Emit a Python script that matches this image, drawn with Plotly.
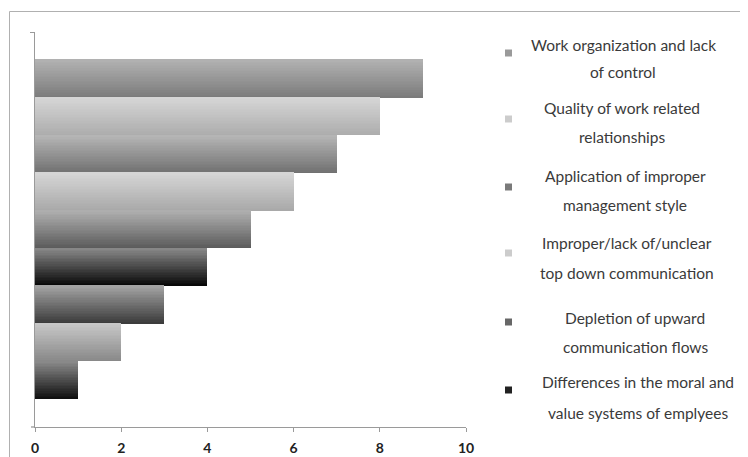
import plotly.graph_objects as go

# ---- data ----
values = [1, 2, 3, 4, 5, 6, 7, 8, 9]          # bottom -> top
bar_top_colors = ["#8c8c8c", "#c8c8c8", "#a4a4a4", "#8a8a8a", "#b0b0b0",
                  "#d6d6d6", "#b6b6b6", "#d6d6d6", "#b2b2b2"]
bar_bottom_colors = ["#0e0e0e", "#888888", "#3a3a3a", "#050505", "#5a5a5a",
                     "#a8a8a8", "#707070", "#acacac", "#7a7a7a"]
x_ticks = [0, 2, 4, 6, 8, 10]
legend_lines = [
    ["Work organization and lack", "of control"],
    ["Quality of work related", "relationships"],
    ["Application of improper", "management style"],
    ["Improper/lack of/unclear", "top down communication"],
    ["Depletion of upward", "communication flows"],
    ["Differences in the moral and", "value systems of emplyees"],
]
legend_colors = ["#9a9a9a", "#cccccc", "#7a7a7a", "#cccccc", "#676767", "#222222"]

# ---- layout geometry (page pixels; page body has an 8px margin) ----
OFF = 8
W, H = 748 - OFF, 457 - OFF
L, R, T, B = 35 - OFF, 466 - OFF, 32 - OFF, 427 - OFF
pw, ph = R - L, B - T


def px_x(x):
    return (x - OFF - L) / pw


def px_y(y):
    return (B - (y - OFF)) / ph


def hex2rgb(h):
    h = h.lstrip("#")
    return [int(h[i:i + 2], 16) for i in (0, 2, 4)]


def mix(c1, c2, t):
    a, b = hex2rgb(c1), hex2rgb(c2)
    return "rgb(%d,%d,%d)" % tuple(round(a[i] + (b[i] - a[i]) * t) for i in range(3))


positions = list(range(len(values)))
N = 24
fig = go.Figure()
for k in range(N):
    t = (k + 0.5) / N  # 0 bottom, 1 top
    cols = [mix(bar_bottom_colors[i], bar_top_colors[i], t) for i in range(len(values))]
    fig.add_trace(go.Bar(
        x=values, y=positions, orientation="h",
        width=1.0 / N + 0.02, offset=-0.5 + k / N,
        marker=dict(color=cols, line=dict(width=0)),
        showlegend=False, hoverinfo="skip",
    ))

shapes = [
    dict(type="rect", xref="paper", yref="paper",
         x0=px_x(9.5), x1=px_x(770), y0=px_y(480), y1=px_y(11.5),
         line=dict(color="#b0b0b0", width=1), fillcolor="rgba(0,0,0,0)", layer="below"),
    # short extension of the x axis line to the left of zero
    dict(type="line", xref="paper", yref="paper",
         x0=px_x(31), x1=px_x(35), y0=px_y(427), y1=px_y(427),
         line=dict(color="#9a9a9a", width=1.3)),
]
annotations = []
line_y = [(45, 72), (108, 137), (176, 205), (243, 273), (318, 347), (382, 413)]
centers = [623, 622, 625, 627, 635, 638]
marker_y = [53, 119, 187, 253, 322, 390]
for i, lines in enumerate(legend_lines):
    for j, txt in enumerate(lines):
        annotations.append(dict(
            text=txt, xref="paper", yref="paper",
            x=px_x(centers[i]), y=px_y(line_y[i][j]),
            xanchor="center", yanchor="middle", showarrow=False,
            font=dict(family="Lato", size=15.5, color="#3a3a3a"),
        ))
    shapes.append(dict(
        type="rect", xref="paper", yref="paper",
        x0=px_x(505), x1=px_x(512), y0=px_y(marker_y[i] + 3.5), y1=px_y(marker_y[i] - 3.5),
        line=dict(width=0), fillcolor=legend_colors[i],
    ))

fig.update_layout(
    width=W, height=H,
    margin=dict(l=L, r=W - R, t=T, b=H - B, pad=0, autoexpand=False),
    paper_bgcolor="white", plot_bgcolor="white",
    barmode="overlay", bargap=0,
    xaxis=dict(range=[0, 10], tickvals=x_ticks, ticktext=[str(v) for v in x_ticks],
               showgrid=False, zeroline=False, showline=True, linecolor="#9a9a9a",
               linewidth=1.3, ticks="outside", ticklen=4, tickcolor="#9a9a9a",
               ticklabelstandoff=4, automargin=False,
               tickfont=dict(family="Lato", size=14, color="#222222", weight="bold"),
               fixedrange=True),
    yaxis=dict(range=[-1.25, 9.25], tickvals=[9.25], ticktext=[""],
               showgrid=False, zeroline=False, showline=True, linecolor="#9a9a9a",
               linewidth=1.3, ticks="outside", ticklen=4, tickcolor="#9a9a9a",
               automargin=False, fixedrange=True),
    shapes=shapes, annotations=annotations,
)

fig.write_html("out.html")
